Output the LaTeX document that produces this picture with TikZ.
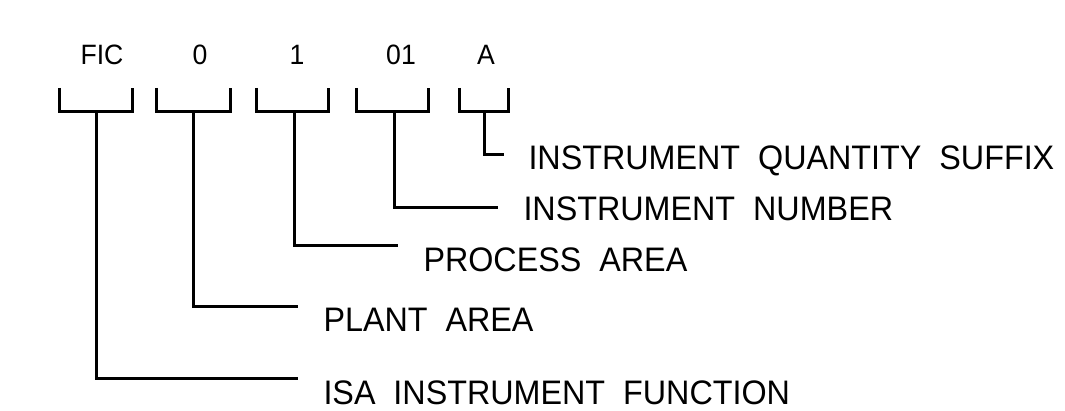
\documentclass[tikz,border=0pt]{standalone}
\usepackage{fontspec}
\newfontfamily\dwgfont[FakeStretch=0.95]{Liberation Sans}
\usetikzlibrary{positioning}

\begin{document}
\begin{tikzpicture}[x=1pt,y=-1pt,line width=3pt,
  tag/.style={font={\dwgfont\fontsize{28}{32}\selectfont},anchor=base,inner sep=0pt},
  lbl/.style={font={\dwgfont\fontsize{34}{40}\selectfont},anchor=base west,inner sep=0pt}]
  \useasboundingbox (0,0) rectangle (1065,411);
  % tag parts
  \node[tag] (fic) at (102,65) {FIC};
  \node[tag] (plant) at (200,65) {0};
  \node[tag] (area) at (297,65) {1};
  \node[tag] (num) at (401,65) {01};
  \node[tag] (sfx) at (486,65) {A};
  % brackets under the tag parts
  \foreach \n/\l/\r/\s in {fic/59/132/96,plant/156/230/193,area/256/328/294,num/356/428/394,sfx/459/508/484} {
    \draw (\l,88) |- (\r,112) -- (\r,88);
    \coordinate (\n-b) at (\s,112);
  }
  % descriptions
  \node[lbl] (sfx-t) at (527,170) {INSTRUMENT~~QUANTITY~~SUFFIX};
  \node[lbl] (num-t) at (522,221) {INSTRUMENT~~NUMBER};
  \node[lbl] (area-t) at (422,272) {PROCESS~~AREA};
  \node[lbl] (plant-t) at (322,332) {PLANT~~AREA};
  \node[lbl] (fic-t) at (322,404) {ISA~~INSTRUMENT~~FUNCTION};
  \coordinate (sfx-e) at (504,155);
  \coordinate (num-e) at (498,208);
  \coordinate (area-e) at (398,246);
  \coordinate (plant-e) at (298,307);
  \coordinate (fic-e) at (298,378);
  % leaders
  \foreach \n in {fic,plant,area,num,sfx}
    \draw (\n-b) |- (\n-e);
\end{tikzpicture}
\end{document}
